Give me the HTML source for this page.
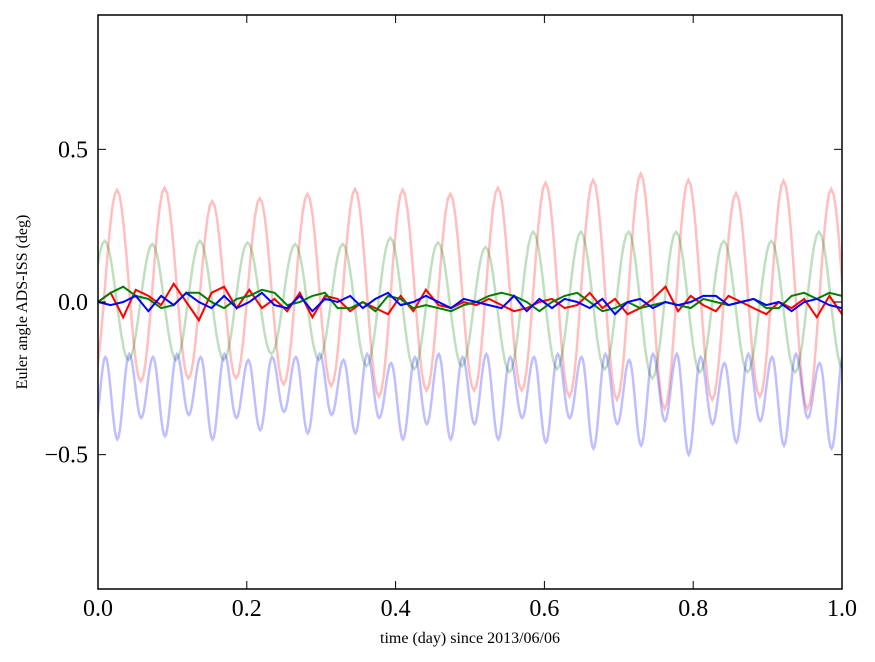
<!DOCTYPE html>
<html><head><meta charset="utf-8"><style>
body{margin:0;background:#fff;}
svg{display:block;font-family:"Liberation Serif",serif;}
</style></head><body>
<svg id="chart" width="875" height="662">
<g id="plot"></g>
</svg>
<script>
const xTicks=[0,0.2,0.4,0.6,0.8,1.0];
const xTickLabels=["0.0","0.2","0.4","0.6","0.8","1.0"];
const yTicks=[0.5,0,-0.5];
const yTickLabels=["0.5","0.0","\u22120.5"];
const period=0.064;
const redPhase=0.0255, greenPhase=0.009, bluePhase=0.026;
const redPeaks=[0.367,0.374,0.33,0.34,0.354,0.37,0.367,0.354,0.374,0.39,0.40,0.42,0.40,0.357,0.397,0.37];
const redTroughs=[-0.26,-0.25,-0.25,-0.27,-0.275,-0.31,-0.29,-0.29,-0.29,-0.31,-0.32,-0.35,-0.32,-0.31,-0.35,-0.33];
const greenPeaks=[0.2,0.19,0.2,0.195,0.19,0.19,0.21,0.195,0.18,0.23,0.23,0.23,0.23,0.2,0.2,0.23,0.22];
const greenTroughs=[-0.19,-0.19,-0.19,-0.17,-0.19,-0.21,-0.22,-0.21,-0.23,-0.22,-0.22,-0.25,-0.23,-0.23,-0.23,-0.22];
const bluePeaks=[-0.18,-0.17,-0.18,-0.17,-0.18,-0.17,-0.19,-0.18,-0.18,-0.17,-0.19,-0.17,-0.2,-0.18,-0.17,-0.18,-0.17,-0.18,-0.18,-0.17,-0.18,-0.17,-0.19,-0.17,-0.17,-0.18,-0.2,-0.17,-0.18,-0.17,-0.2,-0.17];
const blueTroughs=[-0.45,-0.38,-0.44,-0.37,-0.45,-0.38,-0.42,-0.36,-0.43,-0.37,-0.43,-0.38,-0.45,-0.4,-0.45,-0.4,-0.45,-0.38,-0.46,-0.38,-0.48,-0.4,-0.47,-0.39,-0.5,-0.4,-0.46,-0.39,-0.47,-0.38,-0.48,-0.45];
const redNoise=[0.0,0.03,-0.05,0.04,0.02,-0.01,0.06,0.0,-0.06,0.03,0.05,-0.02,0.04,-0.02,0.01,-0.03,0.03,-0.05,0.02,0.01,-0.03,0.0,-0.02,-0.04,0.02,-0.03,0.04,-0.01,-0.02,0.0,-0.01,0.01,-0.01,-0.03,-0.02,0.0,0.01,-0.02,-0.01,0.03,-0.02,0.01,-0.04,-0.02,0.01,0.05,-0.03,0.02,-0.01,-0.03,0.02,0.0,-0.02,-0.04,0.0,-0.02,0.01,-0.05,0.02,-0.04];
const greenNoise=[0.0,0.03,0.05,0.02,0.01,-0.02,-0.01,0.03,0.03,0.0,-0.02,0.01,0.02,0.04,0.03,-0.01,0.0,0.02,0.03,-0.02,-0.02,0.0,-0.03,0.02,0.01,-0.02,-0.01,-0.02,-0.03,-0.01,0.0,0.02,0.03,0.02,0.0,-0.03,0.0,0.02,0.03,0.0,-0.03,-0.02,0.0,-0.02,-0.01,0.0,-0.01,-0.02,0.01,0.0,-0.01,0.0,0.01,-0.02,-0.02,0.02,0.03,0.01,0.03,0.02];
const blueNoise=[0.0,-0.01,0.0,0.02,-0.03,0.02,-0.01,0.03,0.0,-0.02,0.02,-0.02,0.0,0.03,-0.01,-0.02,0.02,-0.03,0.01,0.0,0.02,-0.02,0.01,0.03,-0.01,0.0,0.02,0.0,-0.02,0.01,0.0,-0.01,-0.02,0.02,-0.03,0.01,-0.02,0.01,0.0,-0.02,0.01,-0.04,0.0,0.01,-0.02,0.0,-0.01,0.0,0.02,0.02,-0.01,0.0,0.01,-0.01,0.0,-0.03,0.0,0.01,-0.01,-0.02];

const L=98,R=842,T=15,B=589,yMin=-0.94,yMax=0.94;
const X=t=>L+(t-0)/(1-0)*(R-L);
const Y=v=>T+(yMax-v)/(yMax-yMin)*(B-T);
const NS="http://www.w3.org/2000/svg";
const svg=document.getElementById('chart');
const plot=document.getElementById('plot');
function mk(tag,attrs,parent){const e=document.createElementNS(NS,tag);for(const k in attrs)e.setAttribute(k,attrs[k]);(parent||svg).appendChild(e);return e;}

// clip
const defs=mk('defs',{});
const cp=mk('clipPath',{id:'clip'},defs);
mk('rect',{x:L,y:T,width:R-L,height:B-T},cp);
plot.setAttribute('clip-path','url(#clip)');

// build extrema list alternating peak/trough
function oscPath(peaks,troughs,phase,per){
  const pts=[];
  // extrema: peak at phase+k*per, trough at phase+k*per+per/2 ; extend before start
  pts.push([phase-per/2,troughs[0]]);
  for(let k=0;k<peaks.length;k++){
    pts.push([phase+k*per,peaks[k]]);
    const tv=troughs[Math.min(k,troughs.length-1)];
    pts.push([phase+k*per+per/2,tv]);
  }
  let d='';
  for(let i=0;i<pts.length-1;i++){
    const [t0,v0]=pts[i],[t1,v1]=pts[i+1];
    for(let s=0;s<=10;s++){
      const f=s/10,t=t0+(t1-t0)*f,v=v0+(v1-v0)*(1-Math.cos(Math.PI*f))/2;
      d+=(d?'L':'M')+X(t).toFixed(1)+','+Y(v).toFixed(1);
    }
  }
  return d;
}
function noisePath(vals){
  let d='';
  vals.forEach((v,i)=>{d+=(i?'L':'M')+X(i/(vals.length-1)).toFixed(1)+','+Y(v).toFixed(1);});
  return d;
}
const s1=mk('path',{d:oscPath(redPeaks,redTroughs,redPhase,period),fill:'none',stroke:'#ff0000','stroke-opacity':0.25,'stroke-width':2.5},plot);


const s2=mk('path',{d:oscPath(greenPeaks,greenTroughs,greenPhase,period),fill:'none',stroke:'#008000','stroke-opacity':0.25,'stroke-width':2.5},plot);


const s3=mk('path',{d:oscPath(bluePeaks,blueTroughs,bluePhase-period/4,period/2),fill:'none',stroke:'#0000ff','stroke-opacity':0.25,'stroke-width':2.5},plot);


const s4=mk('path',{d:noisePath(redNoise),fill:'none',stroke:'#ff0000','stroke-width':2},plot);


const s5=mk('path',{d:noisePath(greenNoise),fill:'none',stroke:'#008000','stroke-width':2},plot);


const s6=mk('path',{d:noisePath(blueNoise),fill:'none',stroke:'#0000ff','stroke-width':2},plot);



const frame=mk('rect',{x:L,y:T,width:R-L,height:B-T,fill:'none',stroke:'#000','stroke-width':1.5});



xTicks.forEach((t,i)=>{
  const x=X(t);
  mk('line',{x1:x,y1:B,x2:x,y2:B-8,stroke:'#000'});
  mk('line',{x1:x,y1:T,x2:x,y2:T+8,stroke:'#000'});
  const tx=mk('text',{x:x,y:B+27,'font-size':24,'text-anchor':'middle'});
  tx.textContent=xTickLabels[i];
  
  
});
yTicks.forEach((v,i)=>{
  const y=Y(v);
  mk('line',{x1:L,y1:y,x2:L+8,y2:y,stroke:'#000'});
  mk('line',{x1:R,y1:y,x2:R-8,y2:y,stroke:'#000'});
  const tx=mk('text',{x:L-10,y:y+8,'font-size':24,'text-anchor':'end'});
  tx.textContent=yTickLabels[i];
  
  
});
const xt=mk('text',{x:470,y:643,'font-size':16,'text-anchor':'middle'});
xt.textContent='time (day) since 2013/06/06';


const yt=mk('text',{x:0,y:0,'font-size':16,'text-anchor':'middle',transform:'translate(27,302) rotate(-90)'});
yt.textContent='Euler angle ADS-ISS (deg)';


</script>
</body></html>
